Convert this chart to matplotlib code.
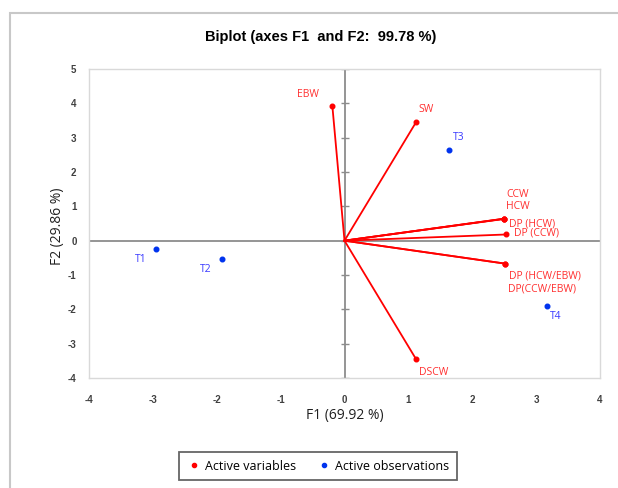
import matplotlib
matplotlib.use("Agg")
import matplotlib.pyplot as plt
from matplotlib.patches import Rectangle
from matplotlib.lines import Line2D

plt.rcParams['font.family'] = ['Liberation Sans', 'DejaVu Sans']
plt.rcParams['axes.unicode_minus'] = False

var_names = ["EBW", "SW", "CCW", "HCW", "DP (HCW)", "DP (CCW)", "DP (HCW/EBW)", "DP(CCW/EBW)", "DSCW"]
var_x = [-0.19, 1.12, 2.49, 2.50, 2.50, 2.53, 2.52, 2.52, 1.12]
var_y = [3.92, 3.45, 0.63, 0.64, 0.64, 0.18, -0.67, -0.67, -3.45]
var_off = [(-24, 12), (10, 13), (14, 25), (14, 12), (28, -5), (30, 1), (39, -12), (37, -25), (18, -13)]

obs_names = ["T1", "T2", "T3", "T4"]
obs_x = [-2.95, -1.92, 1.63, 3.17]
obs_y = [-0.23, -0.53, 2.63, -1.90]
obs_off = [(-15, -11), (-16, -11), (10, 13), (9, -11)]

xticks = [-4, -3, -2, -1, 0, 1, 2, 3, 4]
yticks = [-4, -3, -2, -1, 0, 1, 2, 3, 4, 5]

fig = plt.figure(figsize=(6.18, 4.88), dpi=100)
fig.patches.append(Rectangle((10/618, -0.1), 1.2, 1 - 13/488 + 0.1, transform=fig.transFigure,
                             fill=False, edgecolor="#c8c8c8", linewidth=1.5))
ax = fig.add_axes([89/618, 1 - 378/488, (600-89)/618, (378-69)/488])
ax.set_xlim(-4, 4)
ax.set_ylim(-4, 5)
for s in ax.spines.values():
    s.set_color("#d9d9d9")
    s.set_linewidth(1.0)
ax.set_xticks(xticks)
ax.set_yticks(yticks)
ax.tick_params(length=0, labelsize=7, colors="#404040", pad=12)
ax.tick_params(axis='y', pad=9)
for lab in ax.get_xticklabels() + ax.get_yticklabels():
    lab.set_fontweight('bold')

# zero lines
ax.axhline(0, color="#8c8c8c", lw=1.3, zorder=1)
ax.axvline(0, color="#8c8c8c", lw=1.3, zorder=1)
ax.plot([0]*len(yticks), yticks, linestyle='none', marker='_', markersize=6, color="#8c8c8c", zorder=1)

# vectors
for x, y, n, off in zip(var_x, var_y, var_names, var_off):
    ax.plot([0, x], [0, y], color="#ff0000", lw=1.3, zorder=2)
    ax.annotate(n, (x, y), xytext=off, textcoords='offset pixels', ha='center', va='center',
                fontsize=7.5, color="#ff3030", family=['Open Sans', 'DejaVu Sans'])
ax.scatter(var_x, var_y, s=11, color="#ff0000", zorder=3)

ax.scatter(obs_x, obs_y, s=11, color="#0033ee", zorder=3)
for x, y, n, off in zip(obs_x, obs_y, obs_names, obs_off):
    ax.annotate(n, (x, y), xytext=off, textcoords='offset pixels', ha='center', va='center',
                fontsize=7.5, color="#3a3aff", family=['Open Sans', 'DejaVu Sans'])

fig.text(321/618, 1 - 37/488, "Biplot (axes F1  and F2:  99.78 %)", ha='center', va='center',
         fontsize=10.5, fontweight='bold', color="#000000")
fig.text(345/618, 1 - 415/488, "F1 (69.92 %)", ha='center', va='center', fontsize=10,
         family=['Open Sans', 'DejaVu Sans'], color="#202020")
fig.text(57/618, 1 - 226/488, "F2 (29.86 %)", ha='center', va='center', fontsize=10, rotation=90,
         family=['Open Sans', 'DejaVu Sans'], color="#202020")

handles = [Line2D([], [], linestyle='none', marker='o', markersize=3, color="#ff0000"),
           Line2D([], [], linestyle='none', marker='o', markersize=3, color="#0033ee")]
leg = fig.legend(handles, ["Active variables", "Active observations"], ncol=2,
                 loc='center', bbox_to_anchor=(318/618, 1 - 466/488), frameon=True, fancybox=False,
                 edgecolor="#404040", handletextpad=0.3, columnspacing=1.6,
                 borderpad=0.6, handlelength=1.2,
                 prop={'family': ['Open Sans', 'DejaVu Sans'], 'size': 9})
leg.get_frame().set_linewidth(1.3)

fig.savefig("out.png", dpi=100)
